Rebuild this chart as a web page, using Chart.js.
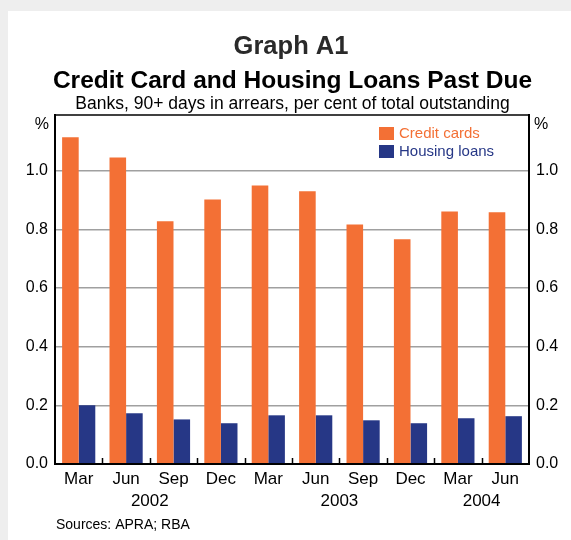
<!DOCTYPE html>
<html lang="en">
<head>
<meta charset="UTF-8">
<title>Graph A1</title>
<script src="https://cdn.jsdelivr.net/npm/chart.js@4.4.0/dist/chart.umd.min.js"></script>
<style>
    html, body { margin: 0; padding: 0; background: #eeeeee; }
    .wrap { position: absolute; left: 0; top: 0; width: 571px; height: 540px; }
</style>
</head>
<body>
<div class="wrap"><canvas id="myChart" width="571" height="540"></canvas></div>
<script>
    // data
    const quarters = ['Mar', 'Jun', 'Sep', 'Dec', 'Mar', 'Jun', 'Sep', 'Dec', 'Mar', 'Jun'];
    const years = ['2002', '2003', '2004'];
    const yearStart = [0, 4, 8];   // index of first quarter of each year
    const creditCards = [1.114, 1.045, 0.828, 0.902, 0.950, 0.930, 0.817, 0.766, 0.861, 0.858];
    const housingLoans = [0.200, 0.173, 0.152, 0.139, 0.166, 0.166, 0.149, 0.139, 0.156, 0.163];
    const yTicks = [0, 0.2, 0.4, 0.6, 0.8, 1.0];

    const ORANGE = '#f37035';
    const BLUE = '#263786';
    const FONT = 'Arial, "Liberation Sans", sans-serif';

    const decor = {
        id: 'decor',
        beforeDraw(chart) {
            const c = chart.ctx;
            c.save();
            c.fillStyle = '#ffffff';
            c.fillRect(8, 11, chart.width - 8, chart.height - 11);
            c.restore();
        },
        afterDraw(chart) {
            const c = chart.ctx;
            const a = chart.chartArea;
            const x = chart.scales.x;
            c.save();

            // titles
            c.textAlign = 'center';
            c.textBaseline = 'alphabetic';
            c.fillStyle = '#2a2a2a';
            c.font = 'bold 25.5px ' + FONT;
            c.fillText('Graph A1', 291, 54);
            c.fillStyle = '#000';
            c.font = 'bold 24.5px ' + FONT;
            c.fillText('Credit Card and Housing Loans Past Due', 292.5, 88);
            c.font = '17.5px ' + FONT;
            c.fillText('Banks, 90+ days in arrears, per cent of total outstanding', 292.5, 109);

            // % unit labels
            c.font = '16px ' + FONT;
            c.textAlign = 'right';
            c.fillText('%', 49, 129);
            c.textAlign = 'left';
            c.fillText('%', 534, 129);

            // plot frame top
            c.strokeStyle = '#000';
            c.lineWidth = 1.5;
            c.beginPath();
            c.moveTo(a.left, a.top);
            c.lineTo(a.right, a.top);
            c.stroke();

            // category boundary ticks pointing up
            const half = (x.getPixelForValue(1) - x.getPixelForValue(0)) / 2;
            c.beginPath();
            for (let i = 1; i < quarters.length; i++) {
                const px = Math.round(x.getPixelForValue(i) - half) + 0.5;
                c.moveTo(px, a.bottom);
                c.lineTo(px, a.bottom - 6);
            }
            c.stroke();

            // year labels centred under their quarters
            c.font = '17px ' + FONT;
            c.textAlign = 'center';
            c.fillStyle = '#000';
            for (let k = 0; k < years.length; k++) {
                const first = yearStart[k];
                const last = k + 1 < years.length ? yearStart[k + 1] - 1 : quarters.length - 1;
                const cx = (x.getPixelForValue(first) + x.getPixelForValue(last)) / 2;
                c.fillText(years[k], cx, 506);
            }

            // legend
            c.font = '15px ' + FONT;
            c.textAlign = 'left';
            c.textBaseline = 'middle';
            chart.data.datasets.forEach((d, i) => {
                const y = 127 + i * 18;
                c.fillStyle = d.backgroundColor;
                c.fillRect(379, y, 15, 13);
                c.fillText(d.label, 399, y + 7);
            });

            // sources
            c.fillStyle = '#000';
            c.font = '14px ' + FONT;
            c.textBaseline = 'alphabetic';
            c.fillText('Sources: APRA; RBA', 56, 529);
            c.restore();
        }
    };

    const yScale = (pos) => ({
        position: pos,
        min: 0,
        max: 1.19,
        afterBuildTicks(s) { s.ticks = yTicks.map(v => ({ value: v })); },
        afterFit(s) { s.width = pos === 'left' ? 55 : 42; },
        grid: { display: pos === 'left', color: '#a0a0a0', lineWidth: 1.5, drawTicks: false },
        border: { display: true, color: '#000', width: 2 },
        ticks: {
            padding: 7,
            color: '#000',
            font: { family: FONT, size: 16 },
            callback: v => v.toFixed(1)
        }
    });

    new Chart(document.getElementById('myChart'), {
        type: 'bar',
        data: {
            labels: quarters,
            datasets: [
                { label: 'Credit cards', data: creditCards, backgroundColor: ORANGE, yAxisID: 'y' },
                { label: 'Housing loans', data: housingLoans, backgroundColor: BLUE, yAxisID: 'y' }
            ]
        },
        options: {
            responsive: false,
            animation: false,
            devicePixelRatio: 1,
            layout: { padding: { top: 115, left: 0, right: 0, bottom: 0 } },
            datasets: { bar: { categoryPercentage: 0.7, barPercentage: 1.0 } },
            plugins: { legend: { display: false }, tooltip: { enabled: false } },
            scales: {
                x: {
                    grid: { display: false, drawTicks: false },
                    border: { display: true, color: '#000', width: 2, z: 1 },
                    afterFit(s) { s.height = 76; },
                    ticks: { padding: 5, color: '#000', font: { family: FONT, size: 17 } }
                },
                y: yScale('left'),
                y2: yScale('right')
            }
        },
        plugins: [decor]
    });
</script>
</body>
</html>
